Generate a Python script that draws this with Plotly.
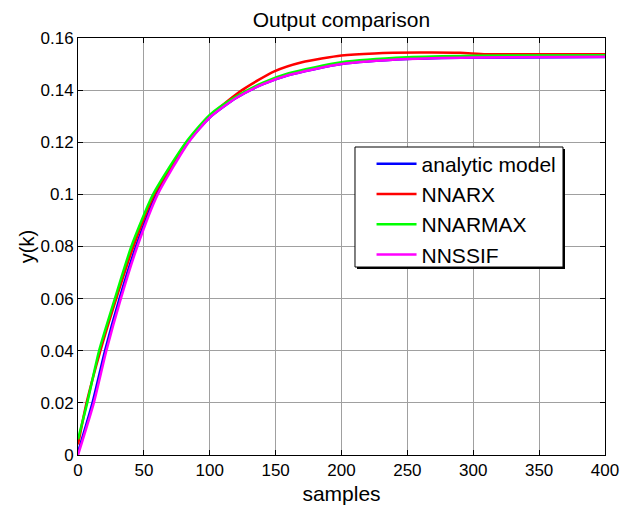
import plotly.graph_objects as go

# Data
k_analytic = [0, 11, 20.5, 31.5, 44, 59.5, 83.5, 100, 120, 140, 160, 200, 250, 300, 400]
y_analytic = [0.001, 0.020, 0.040, 0.060, 0.080, 0.100, 0.120, 0.1295, 0.1370, 0.1422, 0.1458, 0.1500, 0.1519, 0.1525, 0.1527]

k_nnarx = [0, 6.5, 17, 29, 42, 58, 83, 100, 124.5, 149, 170, 200, 225, 260, 290, 310, 400]
y_nnarx = [0.004, 0.020, 0.040, 0.060, 0.080, 0.100, 0.120, 0.1300, 0.1400, 0.1472, 0.1507, 0.1533, 0.1541, 0.1544, 0.1543, 0.1538, 0.1538]

k_nnarmax = [0, 7, 16, 28, 40.5, 57, 82, 100, 120, 140, 160, 200, 250, 300, 400]
y_nnarmax = [0.006, 0.020, 0.040, 0.060, 0.080, 0.100, 0.120, 0.1305, 0.1375, 0.1428, 0.1465, 0.1507, 0.1526, 0.1532, 0.1534]

k_nnssif = [0, 12, 21.5, 32.5, 45, 60.5, 84, 100, 120, 140, 160, 200, 250, 300, 400]
y_nnssif = [0.0, 0.020, 0.040, 0.060, 0.080, 0.100, 0.120, 0.1295, 0.1370, 0.1422, 0.1458, 0.1500, 0.1519, 0.1525, 0.1528]

x_ticks = [0, 50, 100, 150, 200, 250, 300, 350, 400]
y_ticks = [0, 0.02, 0.04, 0.06, 0.08, 0.1, 0.12, 0.14, 0.16]
y_tick_labels = ["0", "0.02", "0.04", "0.06", "0.08", "0.1", "0.12", "0.14", "0.16"]

series = [
    ("analytic model", k_analytic, y_analytic, "#0000ff"),
    ("NNARX", k_nnarx, y_nnarx, "#ff0000"),
    ("NNARMAX", k_nnarmax, y_nnarmax, "#00ff00"),
    ("NNSSIF", k_nnssif, y_nnssif, "#ff00ff"),
]

FONT = "Liberation Sans, Arial, sans-serif"

fig = go.Figure()
for name, xs, ys, col in series:
    fig.add_trace(go.Scatter(x=xs, y=ys, mode="lines", name=name,
                             line=dict(color=col, width=2.5, shape="spline", smoothing=0.6)))

axis_common = dict(
    showline=True, linecolor="black", linewidth=1, mirror="ticks",
    ticks="inside", ticklen=5, tickcolor="black",
    showgrid=True, gridcolor="#a0a0a0", gridwidth=1,
    zeroline=False, automargin=False,
    tickfont=dict(family=FONT, size=17, color="black"),
)

# legend frame (box with a small drop shadow, MATLAB style)
box_x0, box_x1, box_y0, box_y1 = 0.5256, 0.9203, 0.4508, 0.7386
shadow_dx, shadow_dy = 0.0038, 0.0048

fig.update_layout(
    width=623, height=507,
    margin=dict(l=78, r=18, t=38, b=52),
    paper_bgcolor="white", plot_bgcolor="white",
    title=dict(text="Output comparison", x=0.548, xanchor="center", y=0.962, yanchor="middle",
               font=dict(family=FONT, size=21, color="black")),
    xaxis=dict(range=[0, 400], tickvals=x_ticks,
               title=dict(text="samples", font=dict(family=FONT, size=21, color="black"), standoff=6),
               **axis_common),
    yaxis=dict(range=[0, 0.16], tickvals=y_ticks, ticktext=y_tick_labels,
               title=dict(text="y(k)", font=dict(family=FONT, size=20, color="black"), standoff=0),
               **axis_common),
    legend=dict(x=0.557, y=0.747, xanchor="left", yanchor="top",
                bgcolor="rgba(0,0,0,0)", borderwidth=0,
                font=dict(family=FONT, size=21, color="black"),
                itemwidth=40, tracegroupgap=0),
    shapes=[
        dict(type="rect", xref="paper", yref="paper", layer="above",
             x0=box_x0 + shadow_dx, x1=box_x1 + shadow_dx, y0=box_y0 - shadow_dy, y1=box_y1 - shadow_dy,
             fillcolor="black", line=dict(width=0)),
        dict(type="rect", xref="paper", yref="paper", layer="above",
             x0=box_x0, x1=box_x1, y0=box_y0, y1=box_y1,
             fillcolor="white", line=dict(color="black", width=1)),
    ],
    showlegend=True,
)

fig.write_html("out.html")
